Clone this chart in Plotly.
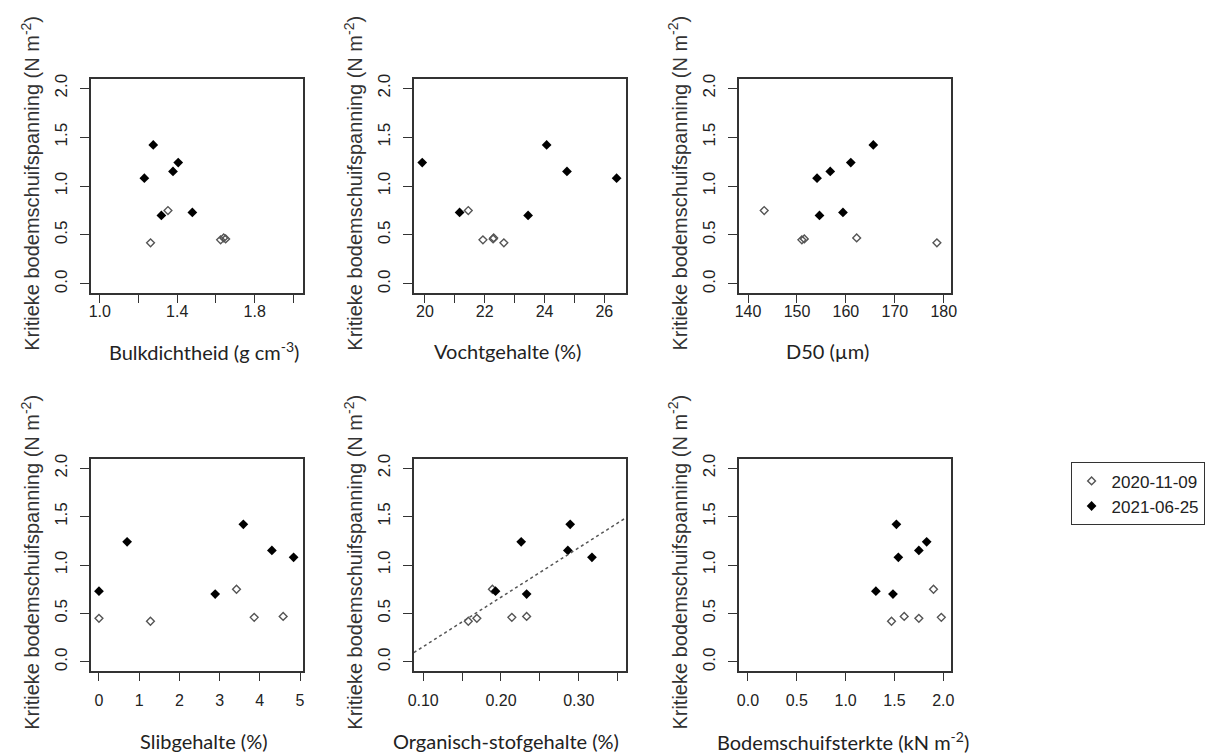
import plotly.graph_objects as go

W, H = 1205, 756

# ---- data ----
y_open = [0.75, 0.42, 0.45, 0.46, 0.47]          # 2020-11-09
y_filled = [1.42, 1.08, 1.24, 1.15, 0.70, 0.73]  # 2021-06-25

bulk_open = [1.352, 1.262, 1.624, 1.650, 1.640]
bulk_filled = [1.276, 1.230, 1.405, 1.378, 1.318, 1.478]

vocht_open = [21.45, 22.64, 21.94, 22.28, 22.30]
vocht_filled = [24.07, 26.41, 19.91, 24.75, 23.45, 21.16]

d50_open = [143.3, 178.6, 151.0, 151.5, 162.2]
d50_filled = [165.6, 154.1, 161.0, 156.8, 154.6, 159.4]

slib_open = [3.42, 1.28, 0.0, 3.86, 4.58]
slib_filled = [3.59, 4.84, 0.70, 4.30, 2.89, 0.0]

os_open = [0.189, 0.158, 0.169, 0.214, 0.233]
os_filled = [0.289, 0.317, 0.226, 0.286, 0.233, 0.193]

sterkte_open = [1.90, 1.47, 1.75, 1.98, 1.60]
sterkte_filled = [1.52, 1.54, 1.83, 1.75, 1.485, 1.31]

# regression line in the organic-matter panel
os_intercept = -0.352
os_slope = 5.10

series_names = ["2020-11-09", "2021-06-25"]

y_title = "Kritieke bodemschuifspanning (N m<sup>-2</sup>)"
x_titles = ["Bulkdichtheid (g cm<sup>-3</sup>)", "Vochtgehalte (%)", "D50 (\u00b5m)",
            "Slibgehalte (%)", "Organisch-stofgehalte (%)", "Bodemschuifsterkte (kN m<sup>-2</sup>)"]

y_tickvals = [0, 0.5, 1.0, 1.5, 2.0]
y_ticktext = ["0.0", "0.5", "1.0", "1.5", "2.0"]

x_tickvals = [
    [1.0, 1.2, 1.4, 1.6, 1.8, 2.0],
    [20, 21, 22, 23, 24, 25, 26],
    [140, 150, 160, 170, 180],
    [0, 1, 2, 3, 4, 5],
    [0.10, 0.15, 0.20, 0.25, 0.30, 0.35],
    [0.0, 0.5, 1.0, 1.5, 2.0],
]
x_ticktext = [
    ["1.0", "", "1.4", "", "1.8", ""],
    ["20", "", "22", "", "24", "", "26"],
    ["140", "150", "160", "170", "180"],
    ["0", "1", "2", "3", "4", "5"],
    ["0.10", "", "0.20", "", "0.30", ""],
    ["0.0", "0.5", "1.0", "1.5", "2.0"],
]
x_ranges = [[0.954, 2.051], [19.63, 26.73], [138.1, 181.5],
            [-0.20, 5.08], [0.088, 0.361], [-0.094, 2.08]]

panels_open = [bulk_open, vocht_open, d50_open, slib_open, os_open, sterkte_open]
panels_filled = [bulk_filled, vocht_filled, d50_filled, slib_filled, os_filled, sterkte_filled]

# ---- layout geometry (pixels) ----
cols = [(86, 301), (413, 628), (742, 957)]
rows = [(74, 289), (457, 670)]
y_range = [-0.09, 2.09]
x_title_cx = [201, 508, 832, 201, 506, 848]
x_title_cy = [348, 741]
x_label_standoff = [-6, 5]

fig = go.Figure()
layout = dict(width=W, height=H, margin=dict(l=0, r=0, t=0, b=0),
              paper_bgcolor="white", plot_bgcolor="white", showlegend=True)
annotations = []

xtick_font = dict(family="Liberation Sans, Arial, sans-serif", size=16, color="#222")
ytick_font = dict(family="Liberation Sans, Arial, sans-serif", size=17, color="#222")
line_col = "#333"

for i in range(6):
    r, c = divmod(i, 3)
    l, rr = cols[c]
    t, b = rows[r]
    n = i + 1
    xa = "xaxis" if n == 1 else f"xaxis{n}"
    ya = "yaxis" if n == 1 else f"yaxis{n}"
    xref = "x" if n == 1 else f"x{n}"
    yref = "y" if n == 1 else f"y{n}"
    layout[xa] = dict(domain=[l / W, rr / W], anchor=yref, range=x_ranges[i],
                      tickmode="array", tickvals=x_tickvals[i], ticktext=x_ticktext[i],
                      showline=True, mirror=True, linecolor=line_col, linewidth=1.5,
                      ticks="outside", ticklen=9, tickwidth=1.3, tickcolor=line_col,
                      showgrid=False, zeroline=False, tickfont=xtick_font,
                      ticklabelstandoff=x_label_standoff[r])
    layout[ya] = dict(domain=[1 - b / H, 1 - t / H], anchor=xref, range=y_range,
                      tickmode="array", tickvals=y_tickvals, ticktext=y_ticktext,
                      tickangle=-90,
                      showline=True, mirror=True, linecolor=line_col, linewidth=1.5,
                      ticks="outside", ticklen=9, tickwidth=1.3, tickcolor=line_col,
                      showgrid=False, zeroline=False, tickfont=ytick_font,
                      ticklabelstandoff=6)

    fig.add_trace(go.Scatter(x=panels_open[i], y=y_open, mode="markers", xaxis=xref, yaxis=yref,
                             name=series_names[0], legendgroup="a", showlegend=(i == 0),
                             marker=dict(symbol="diamond-open", size=6, color="#555",
                                         line=dict(width=1.4, color="#555"))))
    fig.add_trace(go.Scatter(x=panels_filled[i], y=y_filled, mode="markers", xaxis=xref, yaxis=yref,
                             name=series_names[1], legendgroup="b", showlegend=(i == 0),
                             marker=dict(symbol="diamond", size=7.5, color="black")))

    # y title
    annotations.append(dict(xref="paper", yref="paper", x=(l - 62) / W, y=1 - ((t + b) / 2 - 3) / H,
                            text=y_title, textangle=-90, showarrow=False,
                            xanchor="center", yanchor="middle",
                            font=dict(family="Liberation Sans, Arial, sans-serif", size=20, color="#333")))
    # x title
    annotations.append(dict(xref="paper", yref="paper", x=x_title_cx[i] / W, y=1 - x_title_cy[r] / H,
                            text=x_titles[i], showarrow=False, xanchor="center", yanchor="middle",
                            font=dict(family="Lato, Open Sans, sans-serif", size=20, color="#222")))

# regression line through the organic-matter panel
lx = x_ranges[4]
fig.add_trace(go.Scatter(x=lx, y=[os_intercept + os_slope * v for v in lx], mode="lines",
                         xaxis="x5", yaxis="y5", showlegend=False,
                         line=dict(color="#555", width=1.5, dash="dot")))

layout["annotations"] = annotations
layout["legend"] = dict(x=1078 / W, y=1 - 460 / H, xanchor="left", yanchor="top",
                        bordercolor="#333", borderwidth=1, bgcolor="white",
                        font=dict(family="Liberation Sans, Arial, sans-serif", size=17, color="#222"),
                        tracegroupgap=0, itemclick=False)
fig.update_layout(**layout)

fig.write_html("out.html")
